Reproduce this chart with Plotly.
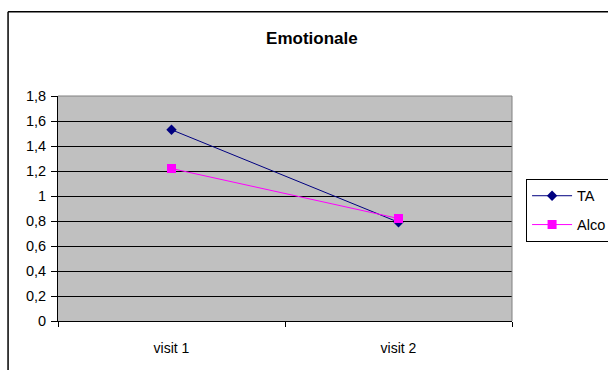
import plotly.graph_objects as go

# Chart data
visits = ["visit 1", "visit 2"]
ta_values = [1.53, 0.79]
alco_values = [1.22, 0.82]
y_ticks = [0, 0.2, 0.4, 0.6, 0.8, 1, 1.2, 1.4, 1.6, 1.8]
y_tick_labels = ["0", "0,2", "0,4", "0,6", "0,8", "1", "1,2", "1,4", "1,6", "1,8"]

FONT = "Liberation Sans, Arial, sans-serif"

fig = go.Figure()
fig.add_trace(go.Scatter(
    x=visits, y=ta_values, name="TA", mode="lines+markers",
    line=dict(color="#000080", width=1),
    marker=dict(symbol="diamond", size=8, color="#000080"),
    legendgroup="ta",
))
fig.add_trace(go.Scatter(
    x=visits, y=alco_values, name="Alco", mode="lines+markers",
    line=dict(color="#FF00FF", width=1),
    marker=dict(symbol="square", size=9, color="#FF00FF"),
    legendgroup="alco",
))

fig.update_layout(
    width=608, height=370,
    margin=dict(l=58, r=96, t=96, b=49, autoexpand=False),
    paper_bgcolor="white",
    plot_bgcolor="#C0C0C0",
    font=dict(family=FONT, size=14, color="black"),
    title=dict(text="<b>Emotionale</b>", font=dict(family=FONT, size=17, color="black"),
               x=0.513, xanchor="center", xref="container",
               y=0.897, yanchor="middle", yref="container"),
    showlegend=True,
    legend=dict(x=1.031, y=0.632, xanchor="left", yanchor="top",
                bordercolor="black", borderwidth=1, bgcolor="white",
                font=dict(family=FONT, size=14.5, color="black"),
                itemwidth=40,
                traceorder="grouped", tracegroupgap=7),
    xaxis=dict(type="category", range=[-0.5, 1.5], tickson="boundaries",
               ticks="outside", ticklen=5, tickcolor="black",
               showline=True, linecolor="black", linewidth=1,
               showgrid=False, zeroline=False, ticklabelstandoff=14),
    yaxis=dict(range=[0, 1.8], tickvals=y_ticks, ticktext=y_tick_labels,
               ticks="outside", ticklen=6, tickcolor="black",
               tickfont=dict(family=FONT, size=14.5, color="black"),
               ticklabelstandoff=2,
               showline=True, linecolor="black", linewidth=1,
               showgrid=True, gridcolor="black", gridwidth=1,
               zeroline=False),
    shapes=[
        # plot area frame on the top and right side
        dict(type="line", xref="paper", yref="paper", x0=0, x1=1, y0=1, y1=1,
             line=dict(color="#808080", width=1)),
        dict(type="line", xref="paper", yref="paper", x0=1, x1=1, y0=0, y1=1,
             line=dict(color="#808080", width=1)),
        # chart outer border
        dict(type="line", xref="paper", yref="paper", x0=-0.110, x1=1.3, y0=1.374, y1=1.374,
             line=dict(color="black", width=1.5)),
        dict(type="line", xref="paper", yref="paper", x0=-0.110, x1=-0.110, y0=-0.3, y1=1.374,
             line=dict(color="black", width=1.5)),
    ],
)

fig.write_html("out.html")
